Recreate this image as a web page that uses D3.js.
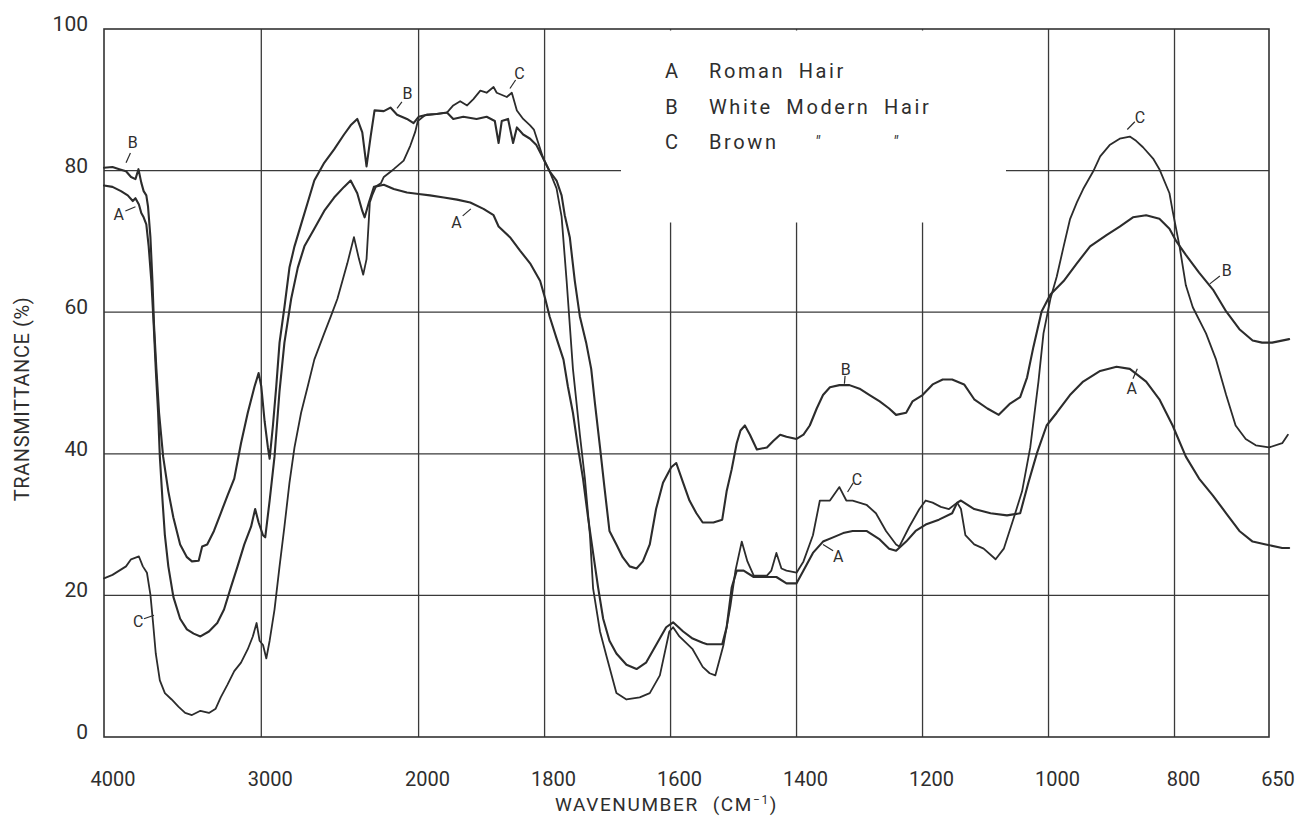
<!DOCTYPE html>
<html>
<head>
<meta charset="utf-8">
<script src="https://cdn.jsdelivr.net/npm/d3@7"></script>
<style>
  html, body { margin: 0; padding: 0; background: #fff; }
  svg { display: block; }
  text { font-family: Roboto, "Liberation Sans", sans-serif; fill: #2e2e2e; }
</style>
</head>
<body>
<svg id="chart" width="1299" height="816"></svg>
<script>
// IR transmittance spectra of hair samples: [wavenumber (cm-1), transmittance (%)]
const romanHair = [
  [4000,77.9],[3946,77.7],[3892,77.1],[3849,76.5],[3817,75.7],[3800,76.1],[3778,75.2],[3763,74.0],
  [3748,73.4],[3731,72.4],[3716,69.3],[3699,64.4],[3684,58.2],[3671,52.0],[3656,45.8],[3645,39.6],
  [3628,33.4],[3613,28.5],[3591,24.1],[3559,19.8],[3516,16.7],[3473,15.2],[3430,14.6],[3387,14.2],
  [3333,14.9],[3280,16.1],[3237,18.0],[3194,21.1],[3151,24.1],[3108,27.2],[3065,29.7],[3039,32.2],
  [3017,30.3],[2989,28.5],[2975,28.2],[2947,33.4],[2916,39.6],[2884,48.9],[2853,55.7],[2810,61.9],
  [2768,66.3],[2726,69.3],[2663,71.8],[2600,74.3],[2537,76.2],[2474,77.7],[2432,78.6],[2390,76.8],
  [2358,74.3],[2343,73.4],[2316,75.5],[2284,77.7],[2221,78.0],[2158,77.4],[2074,76.9],[2000,76.7],
  [1982,76.5],[1960,76.2],[1939,75.9],[1918,75.5],[1897,74.6],[1881,73.7],[1873,72.1],[1855,70.6],
  [1839,68.7],[1823,66.9],[1807,64.4],[1799,61.9],[1792,59.4],[1781,56.3],[1770,53.3],[1763,49.5],
  [1755,45.8],[1747,40.9],[1739,36.5],[1731,31.0],[1723,26.0],[1715,21.1],[1707,16.7],[1697,13.6],
  [1686,11.8],[1670,10.2],[1654,9.6],[1639,10.5],[1623,13.0],[1607,15.5],[1596,16.2],[1580,14.9],
  [1565,13.9],[1549,13.3],[1542,13.1],[1518,13.1],[1511,15.5],[1503,21.1],[1495,23.5],[1484,23.5],
  [1468,22.6],[1447,22.6],[1432,22.6],[1416,21.7],[1400,21.7],[1389,23.5],[1374,26.0],[1358,27.6],
  [1342,28.2],[1326,28.8],[1311,29.1],[1289,29.1],[1268,27.9],[1253,26.6],[1242,26.3],[1226,27.6],
  [1211,29.1],[1195,30.0],[1174,30.7],[1153,31.6],[1145,33.1],[1139,33.4],[1118,32.2],[1092,31.6],
  [1066,31.3],[1045,31.6],[1032,35.9],[1018,40.2],[1003,44.0],[987,45.8],[966,48.3],[945,50.2],
  [918,51.7],[892,52.3],[871,52.0],[845,50.2],[824,47.7],[803,44.0],[782,39.6],[761,36.5],
  [739,34.1],[718,31.6],[697,29.1],[676,27.6],[655,27.2],[629,26.7],[618,26.7]
];

const whiteModernHair = [
  [4000,80.4],[3946,80.5],[3903,80.2],[3860,79.9],[3828,79.1],[3800,78.8],[3781,80.2],[3763,78.3],
  [3748,77.1],[3731,76.5],[3720,74.9],[3705,70.6],[3692,64.4],[3682,58.2],[3667,52.0],[3650,45.8],
  [3624,39.6],[3591,34.7],[3559,31.0],[3516,27.2],[3473,25.4],[3441,24.8],[3398,24.9],[3376,26.9],
  [3344,27.2],[3301,29.1],[3258,31.6],[3215,34.1],[3172,36.5],[3129,41.5],[3086,45.8],[3043,49.5],
  [3017,51.4],[3000,49.5],[2979,44.6],[2958,40.9],[2947,39.3],[2926,44.0],[2905,49.5],[2884,55.7],
  [2853,60.7],[2821,66.3],[2789,69.3],[2747,72.4],[2705,75.5],[2663,78.6],[2600,81.1],[2537,83.0],
  [2474,85.1],[2432,86.4],[2390,87.3],[2358,85.4],[2331,80.6],[2305,84.8],[2280,88.5],[2221,88.4],
  [2179,88.9],[2137,87.9],[2074,87.3],[2032,86.7],[2000,87.6],[1987,87.9],[1971,88.0],[1955,88.2],
  [1945,87.3],[1929,87.6],[1908,87.3],[1892,87.6],[1879,87.0],[1873,83.9],[1868,87.0],[1858,87.3],
  [1850,83.9],[1844,86.1],[1834,85.1],[1823,84.5],[1813,83.6],[1802,81.7],[1792,79.9],[1781,78.6],
  [1773,76.5],[1768,73.7],[1760,70.6],[1752,64.4],[1744,59.4],[1734,55.7],[1726,52.0],[1720,47.1],
  [1712,40.9],[1705,35.3],[1697,29.1],[1686,27.2],[1676,25.4],[1665,24.1],[1654,23.8],[1644,24.8],
  [1633,27.2],[1623,32.2],[1612,35.9],[1599,38.1],[1591,38.7],[1580,35.9],[1570,33.4],[1559,31.6],
  [1549,30.3],[1532,30.3],[1518,30.7],[1511,34.7],[1503,37.8],[1495,41.5],[1489,43.3],[1482,44.0],
  [1474,42.7],[1463,40.6],[1447,40.9],[1437,41.8],[1426,42.7],[1416,42.4],[1400,42.1],[1389,42.7],
  [1379,44.0],[1368,46.4],[1358,48.3],[1347,49.4],[1332,49.7],[1316,49.7],[1300,49.2],[1284,48.3],
  [1268,47.4],[1253,46.4],[1242,45.5],[1226,45.8],[1216,47.4],[1200,48.3],[1184,49.8],[1168,50.5],
  [1153,50.5],[1134,49.8],[1118,47.7],[1097,46.4],[1079,45.5],[1061,47.1],[1045,48.0],[1034,50.8],
  [1024,55.1],[1011,60.1],[997,62.5],[976,64.4],[955,66.9],[934,69.3],[908,70.9],[887,72.1],
  [866,73.4],[845,73.7],[824,73.2],[808,71.8],[797,70.0],[782,68.1],[761,65.6],[739,63.2],
  [718,60.1],[697,57.6],[676,56.0],[661,55.7],[645,55.7],[618,56.2]
];

const brownModernHair = [
  [4000,22.4],[3946,22.9],[3903,23.5],[3860,24.1],[3828,25.1],[3778,25.5],[3753,24.1],[3727,23.2],
  [3705,20.1],[3688,16.1],[3671,11.8],[3645,8.0],[3613,6.2],[3570,5.3],[3527,4.3],[3484,3.4],
  [3441,3.1],[3387,3.7],[3333,3.4],[3290,4.0],[3258,5.6],[3215,7.4],[3172,9.3],[3129,10.5],
  [3086,12.4],[3054,14.2],[3030,16.1],[3011,13.6],[2989,13.0],[2968,11.1],[2947,13.6],[2916,18.0],
  [2884,24.1],[2853,29.7],[2821,35.9],[2789,40.9],[2747,45.8],[2705,49.5],[2663,53.3],[2600,57.0],
  [2558,59.4],[2516,61.9],[2453,66.9],[2411,70.6],[2379,67.5],[2352,65.3],[2331,67.5],[2310,75.5],
  [2295,76.5],[2270,77.8],[2240,78.2],[2221,79.1],[2158,80.2],[2095,81.4],[2053,83.5],[2021,85.5],
  [2005,87.0],[1990,87.8],[1971,88.0],[1955,88.2],[1945,89.2],[1934,89.8],[1923,89.2],[1913,90.1],
  [1902,91.3],[1892,91.0],[1881,91.8],[1876,91.0],[1860,90.4],[1852,91.0],[1844,88.5],[1834,87.3],
  [1823,86.4],[1817,85.8],[1802,81.7],[1792,79.9],[1781,77.5],[1773,73.5],[1765,64.4],[1755,52.0],
  [1744,42.7],[1736,36.5],[1728,28.5],[1723,21.0],[1712,14.9],[1702,11.5],[1686,6.2],[1670,5.3],
  [1649,5.6],[1633,6.2],[1617,8.7],[1602,14.9],[1596,15.5],[1586,14.2],[1565,12.4],[1549,9.9],
  [1538,9.0],[1529,8.7],[1516,13.0],[1505,18.5],[1497,23.5],[1487,27.6],[1478,24.8],[1468,22.8],
  [1447,22.8],[1440,23.5],[1432,26.0],[1424,23.8],[1416,23.5],[1400,23.2],[1389,24.8],[1374,28.5],
  [1363,33.4],[1347,33.4],[1332,35.3],[1321,33.4],[1311,33.4],[1289,32.8],[1274,31.6],[1258,29.1],
  [1242,27.2],[1237,26.9],[1221,29.7],[1205,32.2],[1195,33.4],[1184,33.1],[1171,32.5],[1158,32.2],
  [1145,33.1],[1139,32.2],[1132,28.5],[1118,27.2],[1103,26.6],[1084,25.1],[1071,26.6],[1055,31.0],
  [1042,34.7],[1029,40.9],[1016,50.2],[1008,57.0],[997,61.9],[987,65.0],[976,69.3],[966,73.1],
  [955,75.5],[945,77.4],[929,79.9],[918,82.0],[903,83.6],[887,84.5],[871,84.8],[861,84.2],
  [850,83.3],[834,81.7],[824,80.2],[808,76.8],[803,74.3],[792,69.3],[782,63.8],[771,60.7],
  [750,57.0],[734,53.3],[718,48.3],[703,44.0],[687,42.1],[671,41.2],[650,40.9],[629,41.5],[620,42.7]
];

const xTickValues = [4000, 3000, 2000, 1800, 1600, 1400, 1200, 1000, 800, 650];
const yTickValues = [0, 20, 40, 60, 80, 100];

const legendKeys = ["A", "B", "C"];
const legendNames = ["Roman Hair", "White Modern Hair", "Brown"];

// Letter tags placed beside the traces: [letter, label wn, label %, tick from wn, %, tick to wn, %]
const traceTags = [
  ["B", 3817, 84.1, 3832, 82.5, 3860, 81.1],
  ["A", 3907, 73.9, 3864, 74.3, 3800, 74.9],
  ["C", 3783, 16.4, 3746, 16.7, 3682, 17.2],
  ["B", 2070, 91.0, 2106, 89.7, 2137, 88.8],
  ["C", 1840, 93.8, 1846, 92.8, 1855, 91.6],
  ["A", 1940, 72.7, 1930, 73.6, 1917, 74.6],
  ["B", 1322, 52.0, 1323, 51.0, 1324, 49.9],
  ["C", 1304, 36.4, 1310, 35.9, 1319, 34.6],
  ["A", 1334, 25.6, 1342, 26.3, 1358, 27.2],
  ["C", 855, 87.6, 863, 86.9, 875, 85.8],
  ["B", 717, 65.9, 728, 65.1, 744, 64.0],
  ["A", 868, 49.3, 866, 50.6, 859, 52.0]
];

const svg = d3.select("#chart");
const ink = "#2c2c2c";

// Wavenumber axis with a 4x scale change at 2000 cm-1
const x = d3.scaleLinear().domain([4000, 2000, 650]).range([104, 418.6, 1269]);
const y = d3.scaleLinear().domain([0, 100]).range([737, 29]);

// grid
const grid = svg.append("g").attr("stroke", "#3a3a3a").attr("stroke-width", 1.3);
grid.selectAll("line.v")
  .data(xTickValues.slice(1, -1))
  .join("line")
  .attr("class", "v")
  .attr("x1", d => x(d)).attr("x2", d => x(d))
  .attr("y1", y(100)).attr("y2", y(0));
grid.selectAll("line.h")
  .data(yTickValues.slice(1, -1))
  .join("line")
  .attr("class", "h")
  .attr("x1", x(4000)).attr("x2", x(650))
  .attr("y1", d => y(d)).attr("y2", d => y(d));

// clear area behind the legend
svg.append("rect")
  .attr("x", 621).attr("y", y(100) + 1.5)
  .attr("width", 385).attr("height", 192)
  .attr("fill", "#fff");

// frame
svg.append("rect")
  .attr("x", x(4000)).attr("y", y(100))
  .attr("width", x(650) - x(4000)).attr("height", y(0) - y(100))
  .attr("fill", "none").attr("stroke", "#333").attr("stroke-width", 1.6);

// tick labels
svg.append("g").selectAll("text")
  .data(xTickValues)
  .join("text")
  .attr("x", d => x(d) + 9)
  .attr("y", 786)
  .attr("text-anchor", "middle")
  .attr("font-size", 20)
  .text(d => d);

svg.append("g").selectAll("text")
  .data(yTickValues)
  .join("text")
  .attr("x", 88)
  .attr("y", d => y(d) + 2)
  .attr("text-anchor", "end")
  .attr("font-size", 21)
  .text(d => d);

// axis titles
const xTitle = svg.append("text")
  .attr("x", 555).attr("y", 811)
  .attr("font-size", 19)
  .attr("letter-spacing", 1.6);
xTitle.append("tspan").text("WAVENUMBER");
xTitle.append("tspan").attr("dx", 14).text("(CM");
xTitle.append("tspan").attr("dy", -7).attr("font-size", 12).text("−1");
xTitle.append("tspan").attr("dy", 7).text(")");

svg.append("text")
  .attr("transform", "translate(29,399) rotate(-90)")
  .attr("text-anchor", "middle")
  .attr("font-size", 20)
  .attr("letter-spacing", 0.6)
  .text("TRANSMITTANCE  (%)");

// spectra
const line = d3.line().x(d => x(d[0])).y(d => y(d[1]));
svg.append("g")
  .attr("fill", "none")
  .attr("stroke", ink)
  .attr("stroke-linejoin", "round")
  .attr("stroke-linecap", "round")
  .selectAll("path")
  .data([romanHair, whiteModernHair, brownModernHair])
  .join("path")
  .attr("stroke-width", (d, i) => i === 2 ? 1.8 : 2.1)
  .attr("d", line);

// trace letter tags
const tags = svg.append("g");
tags.selectAll("text")
  .data(traceTags)
  .join("text")
  .attr("x", d => x(d[1]))
  .attr("y", d => y(d[2]) + 6)
  .attr("text-anchor", "middle")
  .attr("font-size", 16)
  .text(d => d[0]);
tags.selectAll("line")
  .data(traceTags)
  .join("line")
  .attr("x1", d => x(d[3])).attr("y1", d => y(d[4]))
  .attr("x2", d => x(d[5])).attr("y2", d => y(d[6]))
  .attr("stroke", ink).attr("stroke-width", 1.2);

// legend
const legend = svg.append("g").attr("font-size", 20);
legend.selectAll("text.key")
  .data(legendKeys)
  .join("text")
  .attr("class", "key")
  .attr("x", 671.5)
  .attr("y", (d, i) => 78 + i * 35.5)
  .attr("text-anchor", "middle")
  .text(d => d);
legend.selectAll("text.name")
  .data(legendNames)
  .join("text")
  .attr("class", "name")
  .attr("x", 709)
  .attr("y", (d, i) => 78 + i * 35.5)
  .attr("letter-spacing", 2.6)
  .attr("word-spacing", 6)
  .text(d => d);
// ditto marks on the third row
legend.selectAll("text.ditto")
  .data([815, 893])
  .join("text")
  .attr("class", "ditto")
  .attr("x", d => d)
  .attr("y", 78 + 2 * 35.5 - 2)
  .attr("font-size", 16)
  .attr("font-style", "italic")
  .text("\u2033");
</script>
</body>
</html>
